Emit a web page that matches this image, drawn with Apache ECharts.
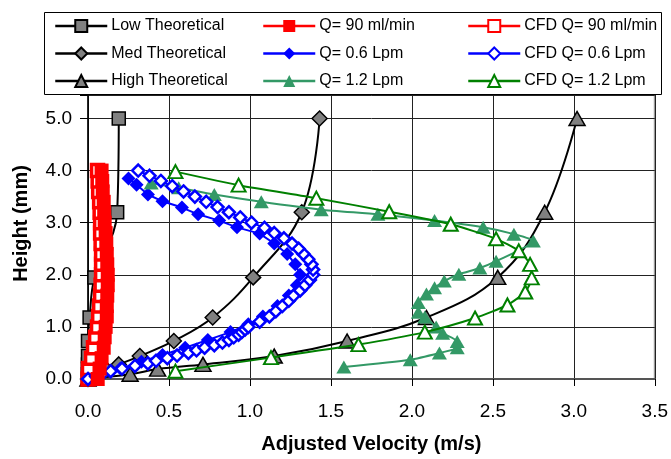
<!DOCTYPE html>
<html>
<head>
<meta charset="utf-8">
<script src="https://cdn.jsdelivr.net/npm/echarts@6/dist/echarts.min.js"></script>
<style>
  html, body { margin: 0; padding: 0; background: #fff; }
  #main { width: 671px; height: 459px; }
</style>
</head>
<body>
<div id="main"></div>
<script>
// theoretical profiles (height in mm, velocity in m/s)
const theoryHeights = [0, 0.09, 0.19, 0.28, 0.44, 0.73, 1.18, 1.95, 3.2, 5.0]
const lowTheoryVel = [0, 0, 0, 0, 0, 0, 0.01, 0.04, 0.18, 0.19]
const medTheoryVel = [0, 0.04, 0.11, 0.19, 0.32, 0.53, 0.77, 1.02, 1.32, 1.43]
const highTheoryVel = [0, 0.26, 0.43, 0.71, 1.15, 1.60, 2.09, 2.53, 2.82, 3.02]

// Q = 90 ml/min, measured and CFD
const redHeights = [0, 0.2, 0.4, 0.6, 0.8, 1.0, 1.2, 1.4, 1.6, 1.8, 2.0, 2.2, 2.4, 2.6, 2.8, 3.0, 3.2, 3.4, 3.6, 3.8, 4.0]
const q90Vel = [0.06, 0.072, 0.084, 0.097, 0.103, 0.109, 0.116, 0.116, 0.119, 0.122, 0.122, 0.119, 0.116, 0.113, 0.109, 0.103, 0.1, 0.097, 0.091, 0.088, 0.084]
const cfd90Vel = [0, 0.003, 0.022, 0.034, 0.047, 0.059, 0.066, 0.072, 0.078, 0.081, 0.084, 0.084, 0.084, 0.081, 0.078, 0.078, 0.075, 0.072, 0.066, 0.063, 0.059]

// Q = 0.6 Lpm, measured
const q06Heights = [3.85, 3.73, 3.54, 3.41, 3.29, 3.16, 3.04, 2.91, 2.79, 2.6, 2.4, 2.2, 2.0, 1.8, 1.6, 1.4, 1.2, 1.05, 0.9, 0.75, 0.6, 0.46, 0.33, 0.2, 0.08, 0]
const q06Vel = [0.25, 0.30, 0.37, 0.46, 0.58, 0.68, 0.81, 0.92, 1.06, 1.15, 1.23, 1.28, 1.31, 1.29, 1.24, 1.17, 1.08, 0.99, 0.88, 0.74, 0.6, 0.46, 0.33, 0.2, 0.08, 0]

// Q = 0.6 Lpm, CFD
const cfd06Heights = [0, 0.05, 0.1, 0.15, 0.2, 0.25, 0.3, 0.35, 0.4, 0.45, 0.5, 0.55, 0.6, 0.65, 0.7, 0.75, 0.8, 0.85, 0.9, 0.95, 1.0,
  1.1, 1.2, 1.3, 1.4, 1.5, 1.6, 1.7, 1.8, 1.9, 2.0, 2.1, 2.2, 2.3, 2.4, 2.5, 2.6, 2.7, 2.8, 2.9, 3.0,
  3.1, 3.2, 3.3, 3.4, 3.5, 3.6, 3.7, 3.8, 3.9, 4.0]
const cfd06Vel = [0, 0.05, 0.09, 0.14, 0.21, 0.29, 0.37, 0.42, 0.49, 0.55, 0.62, 0.67, 0.72, 0.78, 0.83, 0.87, 0.90, 0.93, 0.95, 0.97, 0.99,
  1.06, 1.12, 1.16, 1.20, 1.24, 1.27, 1.31, 1.34, 1.37, 1.39, 1.39, 1.38, 1.36, 1.33, 1.30, 1.26, 1.21, 1.15, 1.09, 1.01,
  0.94, 0.87, 0.80, 0.73, 0.66, 0.59, 0.52, 0.45, 0.38, 0.31]

// Q = 1.2 Lpm, measured
const q12Heights = [0.23, 0.37, 0.50, 0.60, 0.72, 0.88, 1.00, 1.19, 1.28, 1.47, 1.63, 1.75, 1.88, 2.01, 2.13, 2.26, 2.65, 2.78, 2.91, 3.04, 3.16, 3.25, 3.40, 3.54, 3.67, 3.76]
const q12Vel = [1.58, 1.99, 2.17, 2.28, 2.28, 2.19, 2.15, 2.08, 2.04, 2.04, 2.09, 2.14, 2.20, 2.29, 2.42, 2.52, 2.75, 2.63, 2.44, 2.14, 1.79, 1.44, 1.07, 0.78, 0.56, 0.39]

// Q = 1.2 Lpm, CFD
const cfd12Heights = [0.15, 0.41, 0.66, 0.90, 1.17, 1.42, 1.67, 1.94, 2.20, 2.46, 2.69, 2.97, 3.21, 3.47, 3.72, 3.98]
const cfd12Vel = [0.54, 1.13, 1.67, 2.08, 2.39, 2.59, 2.70, 2.74, 2.73, 2.66, 2.52, 2.24, 1.86, 1.41, 0.93, 0.54]

const xTicks = ['0.0', '0.5', '1.0', '1.5', '2.0', '2.5', '3.0', '3.5']

const font = 'Liberation Sans'

function pairs(vel, hgt) {
  return vel.map((v, i) => [v, hgt[i]])
}

function theorySeries(name, vel, symbol, size) {
  return {
    name: name,
    type: 'line',
    data: pairs(vel, theoryHeights),
    smooth: 0.4,
    symbol: symbol,
    symbolSize: size,
    lineStyle: { color: '#000', width: 2 },
    itemStyle: { color: '#808080', borderColor: '#000', borderWidth: 1.5 },
    z: 2
  }
}

function filledSeries(name, data, color, symbol, size, smooth, z) {
  return {
    name: name,
    type: 'line',
    data: data,
    smooth: smooth,
    symbol: symbol,
    symbolSize: size,
    lineStyle: { color: color, width: 2 },
    itemStyle: { color: color, borderColor: color, borderWidth: 0 },
    z: z || 3
  }
}

function hollowSeries(name, data, color, symbol, size, smooth, border) {
  return {
    name: name,
    type: 'line',
    data: data,
    smooth: smooth,
    symbol: symbol,
    symbolSize: size,
    lineStyle: { color: color, width: 2 },
    itemStyle: { color: '#fff', borderColor: color, borderWidth: border },
    z: 4
  }
}

const myChart = echarts.init(document.getElementById('main'))

const legendBase = {
  orient: 'vertical',
  top: 18,
  itemGap: 11.5,
  itemWidth: 52,
  itemHeight: 15,
  padding: 0,
  selectedMode: false,
  lineStyle: { width: 2.5 },
  textStyle: { fontFamily: font, fontSize: 16, color: '#000', padding: [0, 0, 0, -1] }
}

myChart.setOption({
  animation: false,
  textStyle: { fontFamily: font },
  graphic: [{
    type: 'rect',
    shape: { x: 44.5, y: 12.5, width: 617, height: 82 },
    style: { fill: '#fff', stroke: '#000', lineWidth: 1 },
    z: 1
  }],
  legend: [
    Object.assign({}, legendBase, { left: 54, data: ['Low Theoretical', 'Med Theoretical', 'High Theoretical'] }),
    Object.assign({}, legendBase, { left: 262, data: ['Q= 90 ml/min', 'Q= 0.6 Lpm', 'Q= 1.2 Lpm'] }),
    Object.assign({}, legendBase, { left: 467, data: ['CFD Q= 90 ml/min', 'CFD Q= 0.6 Lpm', 'CFD Q= 1.2 Lpm'] })
  ],
  grid: {
    left: 88,
    right: 16,
    top: 95,
    bottom: 74,
    show: true,
    borderColor: '#999',
    borderWidth: 2
  },
  xAxis: {
    type: 'value',
    min: 0,
    max: 3.5,
    interval: 0.5,
    name: 'Adjusted Velocity (m/s)',
    nameLocation: 'middle',
    nameGap: 55,
    nameTextStyle: { fontFamily: font, fontSize: 20, fontWeight: 'bold', color: '#000' },
    axisLine: { show: true, lineStyle: { color: '#555', width: 2 } },
    axisTick: { show: true, length: 7, lineStyle: { color: '#000', width: 1 } },
    axisLabel: {
      margin: 23,
      fontSize: 19,
      color: '#000',
      formatter: (v) => xTicks[Math.round(v / 0.5)]
    },
    splitLine: { show: true, lineStyle: { color: '#222', width: 1 } }
  },
  yAxis: {
    type: 'value',
    min: 0,
    max: 5.45,
    interval: 1,
    name: 'Height (mm)',
    nameLocation: 'middle',
    nameGap: 57,
    nameTextStyle: { fontFamily: font, fontSize: 20, fontWeight: 'bold', color: '#000', padding: [0, 0, 0, 27] },
    axisLine: { show: true, lineStyle: { color: '#000', width: 1.5 } },
    axisTick: { show: true, length: 8, lineStyle: { color: '#000', width: 1 } },
    axisLabel: {
      margin: 16,
      fontSize: 19,
      color: '#000',
      formatter: (v) => (v > 5.01 ? '' : v.toFixed(1))
    },
    splitLine: { show: true, lineStyle: { color: '#222', width: 1 } }
  },
  series: [
    theorySeries('Low Theoretical', lowTheoryVel, 'rect', 13),
    theorySeries('Med Theoretical', medTheoryVel, 'diamond', 15),
    theorySeries('High Theoretical', highTheoryVel, 'triangle', [16, 14]),
    // the dense red band: measured squares drawn over the CFD squares
    filledSeries('Q= 90 ml/min', pairs(q90Vel, redHeights), '#ff0000', 'rect', 14, false, 5),
    filledSeries('Q= 0.6 Lpm', pairs(q06Vel, q06Heights), '#0000ff', 'diamond', 14, false),
    filledSeries('Q= 1.2 Lpm', pairs(q12Vel, q12Heights), '#339966', 'triangle', [15, 13], 0.2),
    hollowSeries('CFD Q= 90 ml/min', pairs(cfd90Vel, redHeights), '#ff0000', 'rect', 12, false, 3.5),
    hollowSeries('CFD Q= 0.6 Lpm', pairs(cfd06Vel, cfd06Heights), '#0000ff', 'diamond', 12, false, 2.5),
    hollowSeries('CFD Q= 1.2 Lpm', pairs(cfd12Vel, cfd12Heights), '#008000', 'triangle', [14, 13], 0.2, 2)
  ]
})
</script>
</body>
</html>
